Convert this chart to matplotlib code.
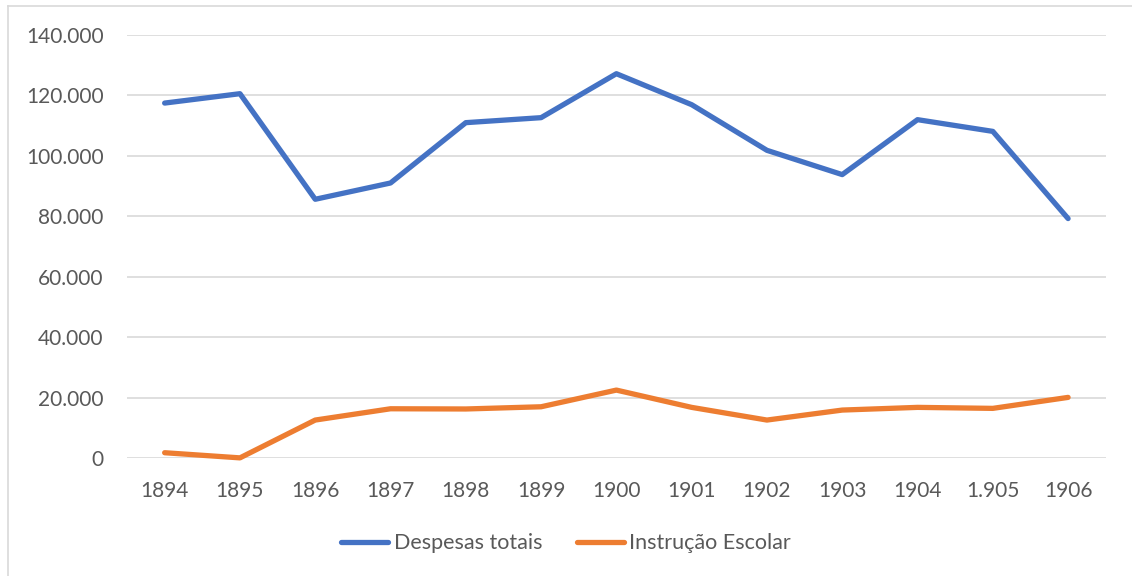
import matplotlib
matplotlib.use("Agg")
import matplotlib.pyplot as plt
from matplotlib.lines import Line2D
from matplotlib.ticker import FuncFormatter

years = ["1894", "1895", "1896", "1897", "1898", "1899", "1900",
         "1901", "1902", "1903", "1904", "1.905", "1906"]
despesas_totais = [117350, 120450, 85570, 90950, 110880, 112530, 127050,
                   116820, 101740, 93720, 111870, 108000, 79200]
instrucao_escolar = [1850, 150, 12640, 16370, 16300, 17030, 22540,
                     16830, 12640, 15940, 16830, 16500, 20130]
yticks = [0, 20000, 40000, 60000, 80000, 100000, 120000, 140000]

plt.rcParams['font.family'] = ['Lato', 'DejaVu Sans']
text_color = '#595959'

fig = plt.figure(figsize=(11.32, 5.76), dpi=100)
ax = fig.add_axes([0.1122, 0.2043, 0.8646, 0.7358])

x = list(range(len(years)))
ax.plot(x, despesas_totais, color='#4472C4', lw=3.8, label='Despesas totais',
        solid_capstyle='round', solid_joinstyle='round')
ax.plot(x, instrucao_escolar, color='#ED7D31', lw=3.8, label='Instrução Escolar',
        solid_capstyle='round', solid_joinstyle='round')

ax.set_xlim(-0.5, len(years) - 0.5)
ax.set_ylim(0, 140000)
ax.set_yticks(yticks)
ax.yaxis.set_major_formatter(FuncFormatter(lambda v, p: f"{v:,.0f}".replace(',', '.')))
ax.set_xticks(x)
ax.set_xticklabels(years)
ax.grid(axis='y', color='#D9D9D9', lw=1.2)
ax.set_axisbelow(True)
for s in ax.spines.values():
    s.set_visible(False)
ax.tick_params(axis='both', length=0, labelsize=15, colors=text_color)
ax.tick_params(axis='y', pad=17)
ax.tick_params(axis='x', pad=16)
for l in ax.get_lines():
    l.set_clip_on(False)

fig.legend(loc='center', bbox_to_anchor=(0.5, 0.057), ncol=2, frameon=False,
           fontsize=15.5, handlelength=2.2, handletextpad=0.25, columnspacing=1.6,
           labelcolor=text_color)

# outer chart border
fig.add_artist(Line2D([8/1132, 8/1132], [0, 1 - 5.5/576], color='#D9D9D9', lw=1.2,
                      transform=fig.transFigure))
fig.add_artist(Line2D([8/1132, 1], [1 - 5.5/576, 1 - 5.5/576], color='#D9D9D9', lw=1.2,
                      transform=fig.transFigure))

fig.savefig('out.png', dpi=100)
